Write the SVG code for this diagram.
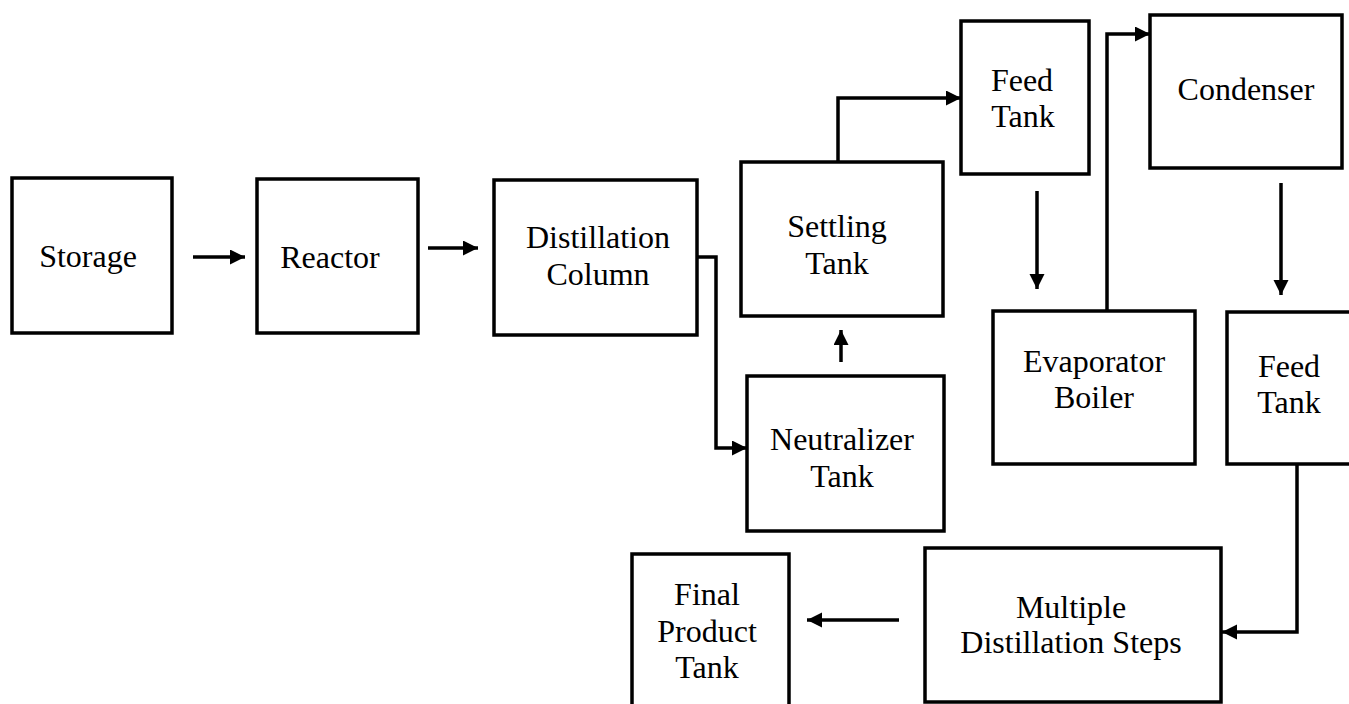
<svg xmlns="http://www.w3.org/2000/svg" width="1349" height="704" viewBox="0 0 1349 704">
<style>
.box{fill:#fff;stroke:#000;stroke-width:3.5}
.lbl{font-family:"Liberation Serif","Times New Roman",serif;font-size:32px;fill:#000;text-anchor:middle}
.con{fill:none;stroke:#000;stroke-width:3.5;stroke-linejoin:miter}
</style>
<defs>
<marker id="ah" markerUnits="userSpaceOnUse" markerWidth="16" markerHeight="16" refX="15" refY="7.5" orient="auto">
<path d="M0,0 L15,7.5 L0,15 z" fill="#000"/>
</marker>
</defs>
<rect width="1349" height="704" fill="#fff"/>
<g id="connectors">
<path class="con" d="M193,257 H245" marker-end="url(#ah)"/>
<path class="con" d="M428,248 H478" marker-end="url(#ah)"/>
<path class="con" d="M697,257 H716 V448 H747" marker-end="url(#ah)"/>
<path class="con" d="M841,362 V330" marker-end="url(#ah)"/>
<path class="con" d="M838,162 V98 H961" marker-end="url(#ah)"/>
<path class="con" d="M1037,191 V289" marker-end="url(#ah)"/>
<path class="con" d="M1107,311 V34 H1150" marker-end="url(#ah)"/>
<path class="con" d="M1281,183 V295" marker-end="url(#ah)"/>
<path class="con" d="M1297,464 V632 H1222" marker-end="url(#ah)"/>
<path class="con" d="M899,620 H807" marker-end="url(#ah)"/>
</g>
<g id="storage"><rect class="box" x="12" y="178" width="160" height="155"/><text class="lbl" x="88" y="267">Storage</text></g>
<g id="reactor"><rect class="box" x="257" y="179" width="161" height="154"/><text class="lbl" x="330" y="268">Reactor</text></g>
<g id="distillation"><rect class="box" x="494" y="180" width="203" height="155"/><text class="lbl" x="598" y="248">Distillation</text><text class="lbl" x="598" y="285">Column</text></g>
<g id="settling"><rect class="box" x="741" y="162" width="202" height="154"/><text class="lbl" x="837" y="237">Settling</text><text class="lbl" x="837" y="274">Tank</text></g>
<g id="neutralizer"><rect class="box" x="747" y="376" width="197" height="155"/><text class="lbl" x="842" y="450">Neutralizer</text><text class="lbl" x="842" y="487">Tank</text></g>
<g id="feedtank1"><rect class="box" x="961" y="21" width="128" height="153"/><text class="lbl" x="1022" y="91">Feed</text><text class="lbl" x="1023" y="127">Tank</text></g>
<g id="condenser"><rect class="box" x="1150" y="15" width="192" height="153"/><text class="lbl" x="1246" y="100">Condenser</text></g>
<g id="evaporator"><rect class="box" x="993" y="311" width="202" height="153"/><text class="lbl" x="1094" y="372">Evaporator</text><text class="lbl" x="1094" y="408">Boiler</text></g>
<g id="feedtank2"><rect class="box" x="1227" y="312" width="126" height="152"/><text class="lbl" x="1289" y="377">Feed</text><text class="lbl" x="1289" y="413">Tank</text></g>
<g id="multiple"><rect class="box" x="925" y="548" width="296" height="154"/><text class="lbl" x="1071" y="618">Multiple</text><text class="lbl" x="1071" y="653">Distillation Steps</text></g>
<g id="final"><rect class="box" x="632" y="554" width="157" height="165"/><text class="lbl" x="707" y="605">Final</text><text class="lbl" x="707" y="642">Product</text><text class="lbl" x="707" y="678">Tank</text></g>
</svg>
